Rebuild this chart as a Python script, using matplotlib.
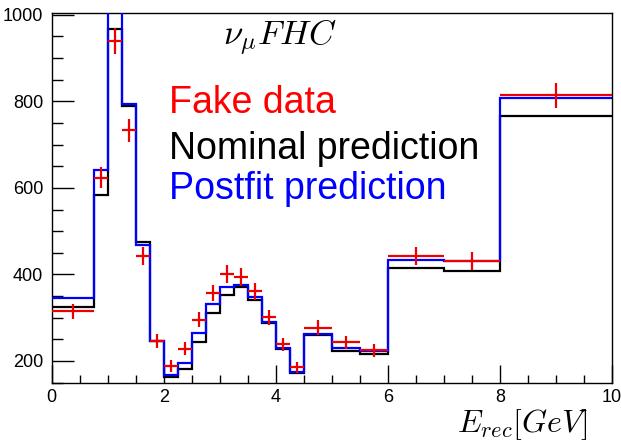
import numpy as np
import matplotlib
matplotlib.use("Agg")
import matplotlib.pyplot as plt
from matplotlib.ticker import MultipleLocator

plt.rcParams['font.family'] = ['Liberation Sans', 'DejaVu Sans']
plt.rcParams['mathtext.fontset'] = 'cm'

edges = [0, 0.75, 1.0, 1.25, 1.5, 1.75, 2.0, 2.25, 2.5, 2.75, 3.0, 3.25, 3.5,
         3.75, 4.0, 4.25, 4.5, 5.0, 5.5, 6.0, 7.0, 8.0, 10.0]
fake_data = [315, 624, 940, 733, 442, 246, 188, 228, 295, 357, 401, 394, 361,
             301, 238, 185, 277, 243, 225, 442, 431, 814]
nominal = [324, 584, 968, 790, 476, 247, 163, 181, 243, 311, 353, 370, 340,
           288, 228, 173, 261, 222, 215, 415, 408, 767]
postfit = [346, 641, 1012, 795, 467, 247, 168, 195, 265, 332, 371, 376, 348,
           291, 230, 175, 263, 230, 224, 434, 431, 807]

W, H = 621, 442
fig = plt.figure(figsize=(W / 100, H / 100), dpi=100)
ax = fig.add_axes([51.7 / W, 1 - 383 / H, (612 - 51.7) / W, (383 - 12.7) / H])

e = np.array(edges)
centers = 0.5 * (e[:-1] + e[1:])
halfw = 0.5 * (e[1:] - e[:-1])
fd = np.array(fake_data, dtype=float)

ax.stairs(nominal, edges, baseline=None, color='black', lw=1.6, zorder=2)
ax.stairs(postfit, edges, baseline=None, color='#0000ff', lw=1.6, zorder=3)
ax.errorbar(centers, fd, xerr=halfw, yerr=np.sqrt(fd), fmt='none',
            ecolor='#ee0000', elinewidth=1.6, capsize=0, zorder=4)

ax.set_xlim(0, 10)
ax.set_ylim(149, 1005)
ax.xaxis.set_major_locator(MultipleLocator(2))
ax.xaxis.set_minor_locator(MultipleLocator(0.5))
ax.yaxis.set_major_locator(MultipleLocator(200))
ax.yaxis.set_minor_locator(MultipleLocator(50))
ax.tick_params(which='both', direction='in', top=False, right=False,
               labelsize=13, width=1.0)
ax.tick_params(axis='y', which='major', length=16, pad=6)
ax.tick_params(axis='y', which='minor', length=8)
ax.tick_params(axis='x', which='major', length=13, pad=4)
ax.tick_params(axis='x', which='minor', length=6)
for s in ax.spines.values():
    s.set_linewidth(1.0)

def ftext(x, y, s, **kw):
    fig.text(x / W, 1 - y / H, s, **kw)

ftext(223, 45, r'$\nu_{\mu}FHC$', fontsize=25, color='black', va='baseline')
ftext(169, 113, 'Fake data', fontsize=27, color='#ff0000', va='baseline')
ftext(169, 159, 'Nominal prediction', fontsize=27, color='black', va='baseline')
ftext(169, 199, 'Postfit prediction', fontsize=27, color='#0000ff', va='baseline')
ftext(588, 432, r'$E_{rec}[GeV]$', fontsize=23, color='black', ha='right', va='baseline')

fig.savefig('out.png', dpi=100)
